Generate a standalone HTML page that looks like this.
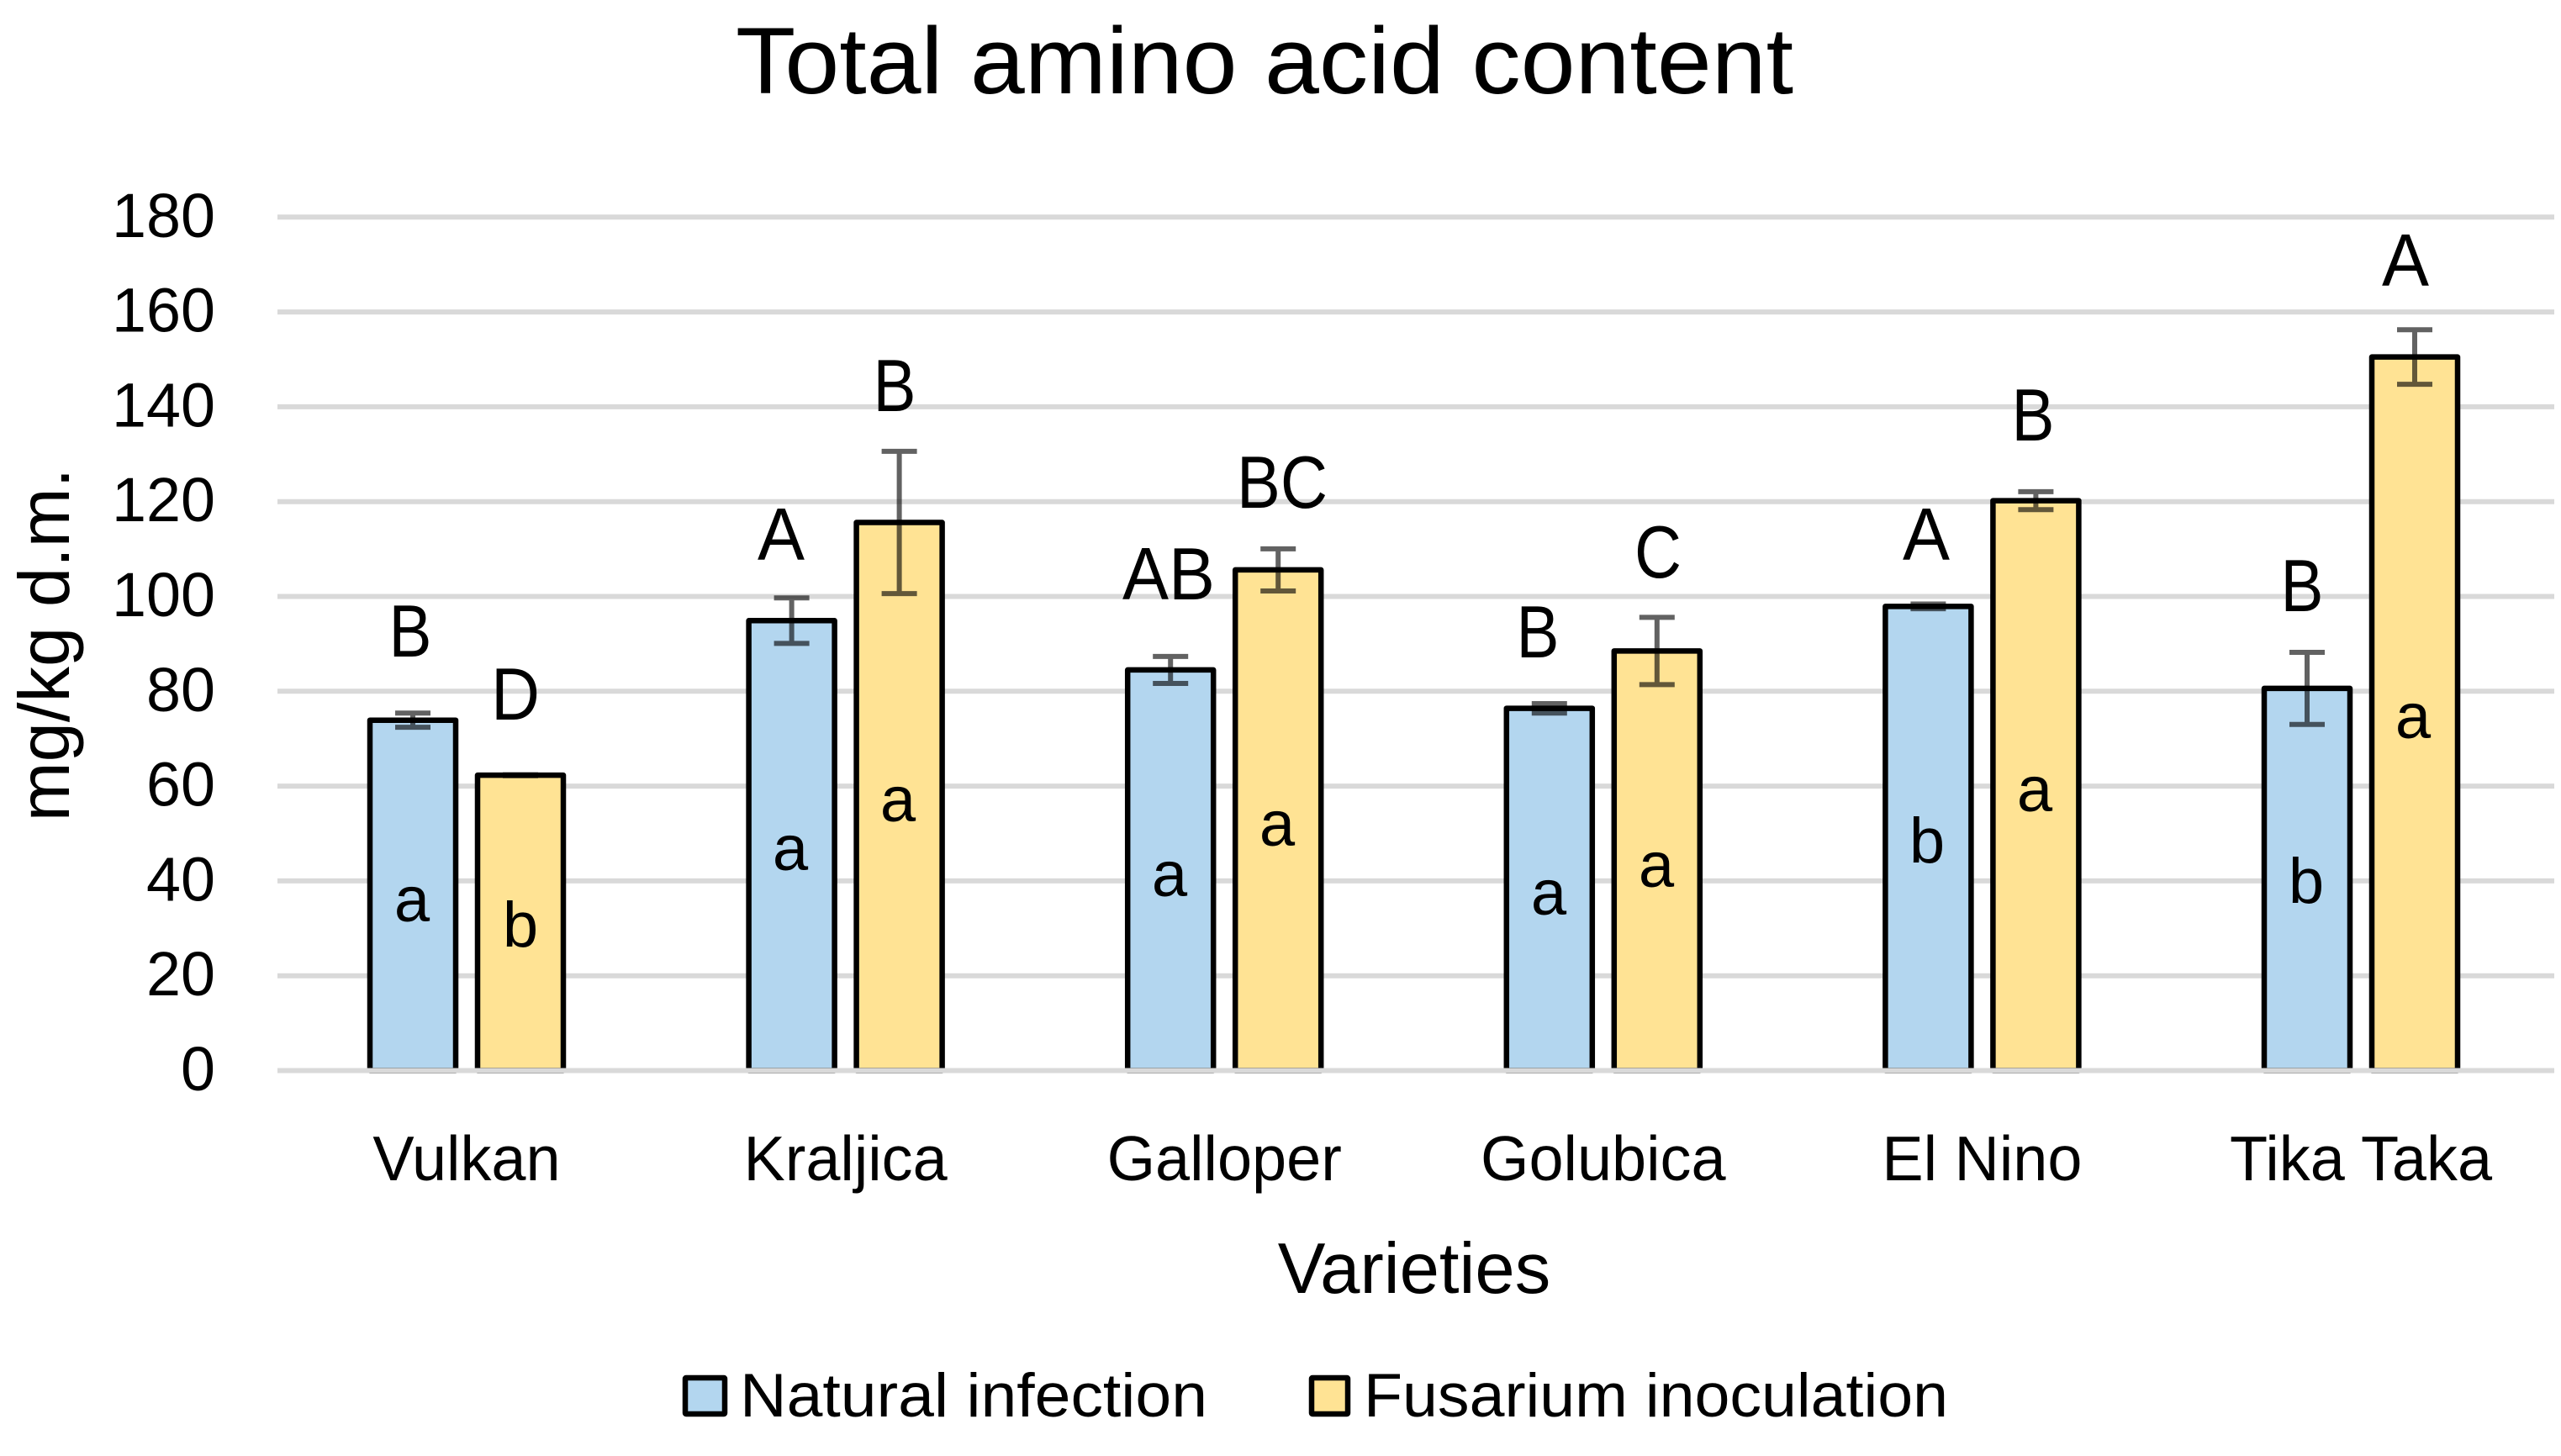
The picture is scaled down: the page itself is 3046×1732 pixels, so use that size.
<!DOCTYPE html>
<html lang="en">
<head>
<meta charset="utf-8">
<title>Total amino acid content</title>
<style>
  html, body { margin: 0; padding: 0; background: #fff; }
  svg { display: block; }
  text { font-family: "Liberation Sans", sans-serif; fill: #000; }
  .err { stroke: #626262; stroke-width: 6; mix-blend-mode: multiply; fill: none; }
  .up { font-size: 88px; text-anchor: middle; }
  .lo { font-size: 76px; text-anchor: middle; }
</style>
</head>
<body>
<svg id="chart" xmlns="http://www.w3.org/2000/svg" width="3046" height="1732" viewBox="0 0 3046 1732">
  <rect x="0" y="0" width="3046" height="1732" fill="#ffffff"/>
  <text x="875" y="111" font-size="112" textLength="1258" lengthAdjust="spacingAndGlyphs">Total amino acid content</text>
  <text transform="translate(82,767) rotate(-90)" font-size="85" text-anchor="middle">mg/kg d.m.</text>
  <text x="1682" y="1538" font-size="85" text-anchor="middle">Varieties</text>
  <g id="grid"></g>
  <g id="yticks"></g>
  <g id="xticks"></g>
  <g id="bars"></g>
  <g id="baseline"></g>
  <g id="errors"></g>

  <g>
    <text class="up" x="488" y="781" textLength="51" lengthAdjust="spacingAndGlyphs">B</text>
    <text class="up" x="613" y="856" textLength="58" lengthAdjust="spacingAndGlyphs">D</text>
    <text class="up" x="929" y="666" textLength="56" lengthAdjust="spacingAndGlyphs">A</text>
    <text class="up" x="1064" y="489" textLength="51" lengthAdjust="spacingAndGlyphs">B</text>
    <text class="up" x="1390" y="713" textLength="110" lengthAdjust="spacingAndGlyphs">AB</text>
    <text class="up" x="1525" y="604" textLength="108" lengthAdjust="spacingAndGlyphs">BC</text>
    <text class="up" x="1829" y="782" textLength="51" lengthAdjust="spacingAndGlyphs">B</text>
    <text class="up" x="1972" y="687" textLength="56" lengthAdjust="spacingAndGlyphs">C</text>
    <text class="up" x="2291" y="666" textLength="56" lengthAdjust="spacingAndGlyphs">A</text>
    <text class="up" x="2418" y="524" textLength="51" lengthAdjust="spacingAndGlyphs">B</text>
    <text class="up" x="2738" y="727" textLength="51" lengthAdjust="spacingAndGlyphs">B</text>
    <text class="up" x="2861" y="340" textLength="56" lengthAdjust="spacingAndGlyphs">A</text>
  </g>

  <g>
    <text class="lo" x="490" y="1096">a</text>
    <text class="lo" x="619" y="1126">b</text>
    <text class="lo" x="940" y="1035">a</text>
    <text class="lo" x="1068" y="977">a</text>
    <text class="lo" x="1391" y="1066">a</text>
    <text class="lo" x="1519" y="1006">a</text>
    <text class="lo" x="1842" y="1088">a</text>
    <text class="lo" x="1970" y="1055">a</text>
    <text class="lo" x="2292" y="1026">b</text>
    <text class="lo" x="2420" y="965">a</text>
    <text class="lo" x="2743" y="1074">b</text>
    <text class="lo" x="2870" y="878">a</text>
  </g>

  <g>
    <rect x="815" y="1639" width="47" height="43" rx="1" fill="#b3d6ef" stroke="#000" stroke-width="6.5"/>
    <text x="880" y="1685" font-size="73" textLength="556" lengthAdjust="spacingAndGlyphs">Natural infection</text>
    <rect x="1560" y="1639" width="43" height="43" rx="1" fill="#ffe394" stroke="#000" stroke-width="6.5"/>
    <text x="1622" y="1685" font-size="73" textLength="695" lengthAdjust="spacingAndGlyphs">Fusarium inoculation</text>
  </g>
</svg>

<script>
var categories = ["Vulkan", "Kraljica", "Galloper", "Golubica", "El Nino", "Tika Taka"];
var naturalInfection = [73.9, 94.9, 84.5, 76.4, 97.9, 80.6];
var fusariumInoculation = [62.3, 115.6, 105.6, 88.5, 120.2, 150.5];
var naturalError = [1.5, 4.8, 2.85, 1.0, 0.5, 7.6];
var fusariumError = [0.1, 15, 4.45, 7.1, 1.9, 5.75];
var yTicks = [0, 20, 40, 60, 80, 100, 120, 140, 160, 180];

var NS = "http://www.w3.org/2000/svg";
var plotLeft = 330, plotRight = 3038;
var yZero = 1273.5, yPerUnit = 5.64;
var firstCenter = 555, bandStep = 450.6, barOffset = 64, barWidth = 102, capHalf = 21;

function yScale(v) { return yZero - v * yPerUnit; }
function xScale(i) { return firstCenter + i * bandStep; }

function make(tag, attrs) {
  var el = document.createElementNS(NS, tag);
  for (var k in attrs) { el.setAttribute(k, attrs[k]); }
  return el;
}

var gridG = document.getElementById("grid");
var tickG = document.getElementById("yticks");
var baseG = document.getElementById("baseline");
yTicks.forEach(function (t) {
  var line = make("line", { x1: plotLeft, x2: plotRight, y1: yScale(t), y2: yScale(t), stroke: "#d9d9d9", "stroke-width": 6 });
  
  
  (t === 0 ? baseG : gridG).appendChild(line);

  var label = make("text", { x: 256, y: yScale(t) + 23.5, "font-size": 74, "text-anchor": "end", textLength: String(t).length * 41, lengthAdjust: "spacingAndGlyphs" });
  
  
  label.textContent = t;
  tickG.appendChild(label);
});

var xG = document.getElementById("xticks");
categories.forEach(function (c, i) {
  var label = make("text", { x: xScale(i), y: 1404, "font-size": 75, "text-anchor": "middle" });
  
  
  label.textContent = c;
  xG.appendChild(label);
  label.setAttribute("textLength", label.getComputedTextLength() * 0.985);
  label.setAttribute("lengthAdjust", "spacingAndGlyphs");
});

var barG = document.getElementById("bars");
var errG = document.getElementById("errors");

function drawSeries(values, errors, offset, fill, seriesName) {
  values.forEach(function (v, i) {
    var cx = xScale(i) + offset;
    var cat = categories[i].toLowerCase().replace(/ /g, '-');

    var bar = make("rect", { x: cx - barWidth / 2, y: yScale(v), width: barWidth, height: yZero - yScale(v), fill: fill, stroke: "#000", "stroke-width": 6.5, "stroke-linejoin": "round" });
    
    
    barG.appendChild(bar);

    var top = yScale(v + errors[i]), bottom = yScale(v - errors[i]);
    var err = make("path", { "class": "err", d: "M" + (cx - capHalf) + " " + top + "H" + (cx + capHalf) + "M" + cx + " " + top + "V" + bottom + "M" + (cx - capHalf) + " " + bottom + "H" + (cx + capHalf) });
    
    
    errG.appendChild(err);
  });
}

drawSeries(naturalInfection, naturalError, -barOffset, "#b3d6ef", "natural");
drawSeries(fusariumInoculation, fusariumError, barOffset, "#ffe394", "fusarium");
</script>
</body>
</html>
